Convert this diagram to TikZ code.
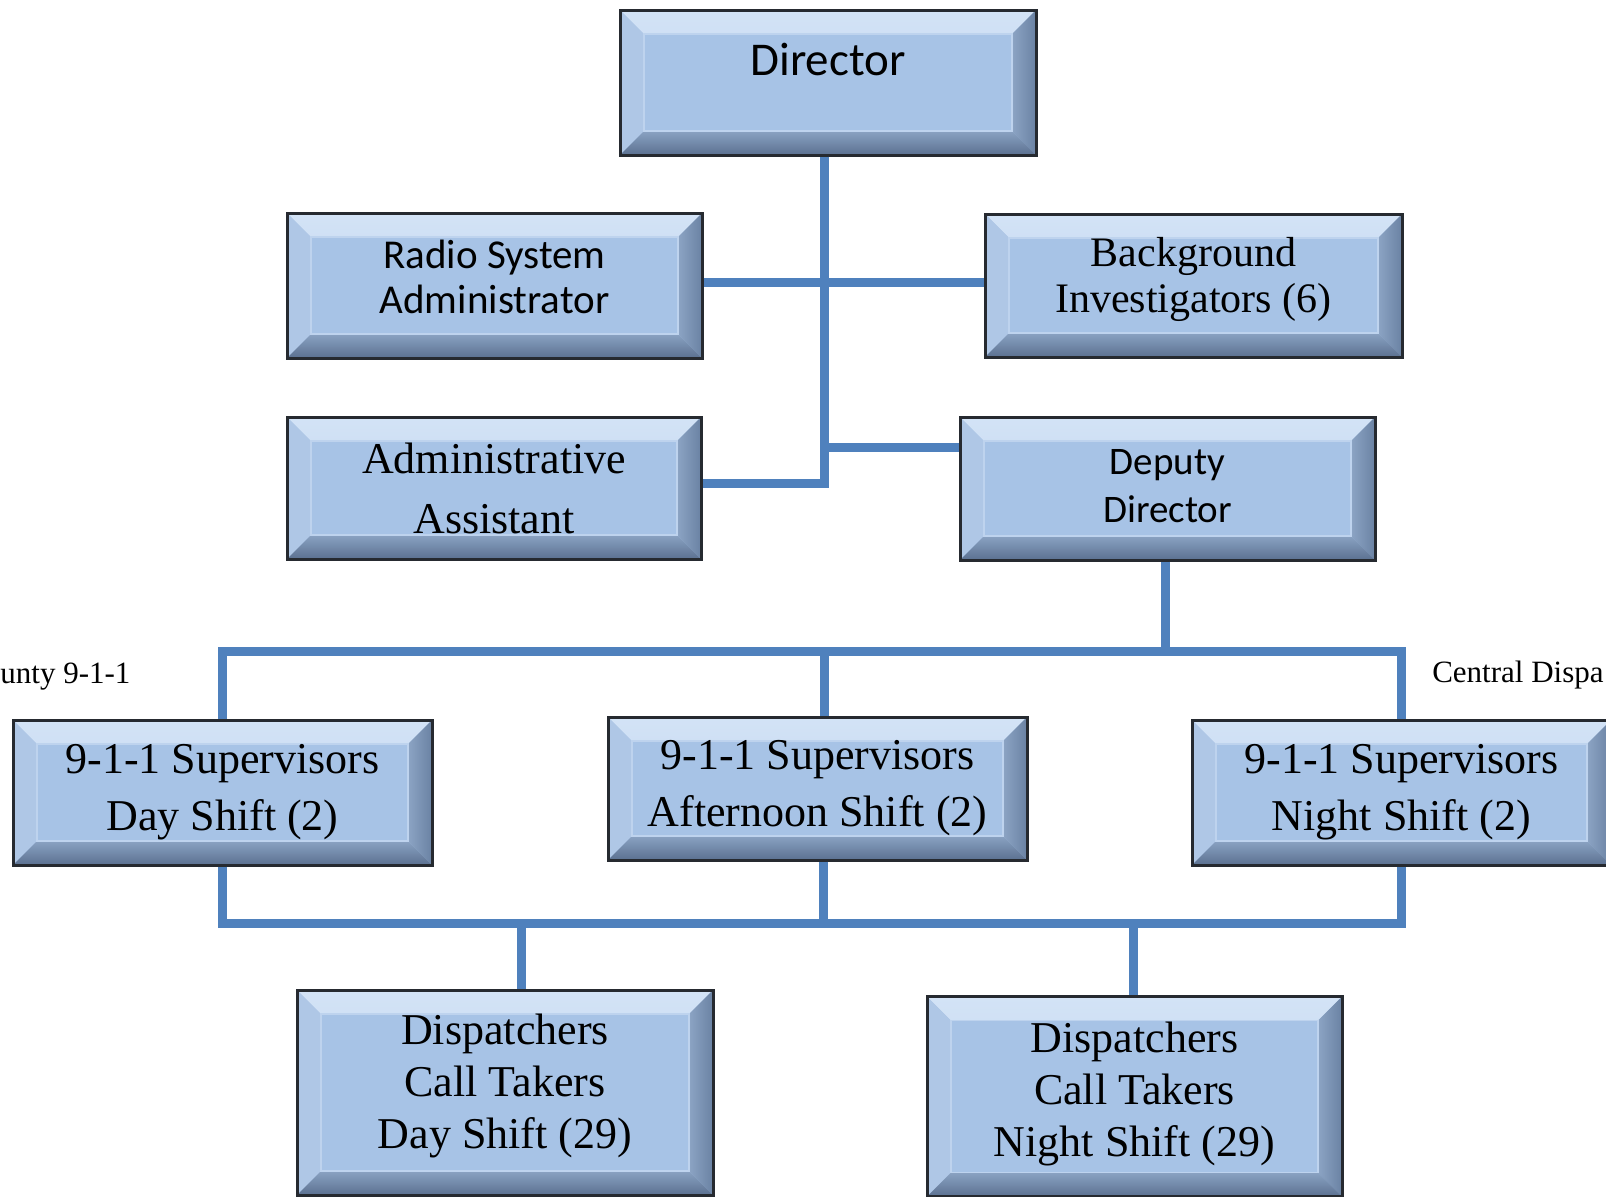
\documentclass[tikz,border=0pt]{standalone}
\usepackage{fontspec}
\setmainfont{Liberation Serif}
\newfontfamily\calfont{Carlito}
\usepackage{xcolor}
\usepackage{tikz}
\usetikzlibrary{positioning, calc}
\definecolor{boxedge}{HTML}{262A30}
\definecolor{boxface}{HTML}{A7C3E6}
\definecolor{bevtopA}{HTML}{D3E3F6}
\definecolor{bevtopB}{HTML}{BBD0EC}
\definecolor{bevleft}{HTML}{AFC7E6}
\definecolor{bevrightA}{HTML}{8CA4C4}
\definecolor{bevrightB}{HTML}{6A82A3}
\definecolor{bevbotA}{HTML}{8AA2C2}
\definecolor{bevbotB}{HTML}{5B7191}
\definecolor{innerline}{HTML}{BED3EE}
\definecolor{linkblue}{HTML}{4F81BD}
\tikzset{
  % Riquadri dell'organigramma (effetto smussato)
  bevbox/.style={draw=boxedge, line width=1.5pt, fill=boxface, inner sep=0pt, align=center,
    path picture={
      \shade[top color=bevtopA, bottom color=bevtopB]
        (path picture bounding box.north west) -- (path picture bounding box.north east)
        -- ([shift={(-12pt,-12pt)}]path picture bounding box.north east)
        -- ([shift={(12pt,-12pt)}]path picture bounding box.north west) -- cycle;
      \fill[bevleft]
        (path picture bounding box.north west) -- ([shift={(12pt,-12pt)}]path picture bounding box.north west)
        -- ([shift={(12pt,12pt)}]path picture bounding box.south west)
        -- (path picture bounding box.south west) -- cycle;
      \shade[left color=bevrightA, right color=bevrightB]
        (path picture bounding box.north east) -- ([shift={(-12pt,-12pt)}]path picture bounding box.north east)
        -- ([shift={(-12pt,12pt)}]path picture bounding box.south east)
        -- (path picture bounding box.south east) -- cycle;
      \shade[top color=bevbotA, bottom color=bevbotB]
        (path picture bounding box.south west) -- (path picture bounding box.south east)
        -- ([shift={(-12pt,12pt)}]path picture bounding box.south east)
        -- ([shift={(12pt,12pt)}]path picture bounding box.south west) -- cycle;
      \draw[innerline, line width=0.8pt]
        ([shift={(12pt,-12pt)}]path picture bounding box.north west)
        rectangle ([shift={(-12pt,12pt)}]path picture bounding box.south east);
    }},
  sansbox/.style={bevbox, font=\calfont\fontsize{20.5}{22.5}\selectfont},
  serifbox/.style={bevbox, font=\fontsize{22}{28.5}\selectfont},
  % Connessioni
  link/.style={draw=linkblue, line width=4.5pt},
  sidenote/.style={inner sep=0pt, font=\fontsize{15.5}{18}\selectfont}
}

\begin{document}
\begin{tikzpicture}[x=0.5pt, y=-0.5pt]
\useasboundingbox (0,0) rectangle (1606,1196);

% Vertice
\node[sansbox, minimum width=208pt, minimum height=72.5pt, text depth=23pt,
  font=\calfont\fontsize{23.5}{26}\selectfont] (dir) at (828,82.5) {Director};

% Staff
\node[sansbox, minimum width=207.5pt, minimum height=72.5pt, text depth=9pt] (radio) at (494.5,285.5) {Radio System\\Administrator};
\node[serifbox, minimum width=208.5pt, minimum height=71.5pt, text depth=10.5pt, font=\fontsize{21}{23}\selectfont] (bginv) at (1193.5,285.5) {Background\\Investigators (6)};
\node[serifbox, minimum width=207pt, minimum height=71pt, font=\fontsize{22}{30}\selectfont] (admin) at (494,488) {Administrative\\Assistant};
\node[sansbox, minimum width=207.5pt, minimum height=71.5pt, text depth=3pt, font=\calfont\fontsize{19.5}{24}\selectfont] (deputy) at (1167.5,488.5) {Deputy\\Director};

% Supervisori
\node[serifbox, minimum width=209.5pt, minimum height=72.5pt] (supday) at (222.5,792.5) {9-1-1 Supervisors\\Day Shift (2)};
\node[serifbox, minimum width=209.5pt, minimum height=71.5pt] (supaft) at (817.5,788.5) {9-1-1 Supervisors\\Afternoon Shift (2)};
\node[serifbox, minimum width=209.5pt, minimum height=72.5pt] (supnight) at (1401.5,792.5) {9-1-1 Supervisors\\Night Shift (2)};

% Operatori
\node[serifbox, minimum width=208pt, minimum height=102.5pt, text depth=10.8pt, font=\fontsize{22}{26}\selectfont] (dispday) at (505,1092.5) {Dispatchers\\Call Takers\\Day Shift (29)};
\node[serifbox, minimum width=207.5pt, minimum height=100pt, text depth=7.5pt, font=\fontsize{22}{26}\selectfont] (dispnight) at (1134.5,1096.5) {Dispatchers\\Call Takers\\Night Shift (29)};

% Testi ai margini
\node[sidenote, anchor=base west] (cnty) at (0,683) {unty 9-1-1};
\node[sidenote, anchor=base east] (cdisp) at (1604,682) {Central Dispa};

% Punti di giunzione
\coordinate (j0) at (824,282);
\coordinate (j1) at (824,483);
\coordinate (j2) at (824,447);
\coordinate (busA) at (1165,651);
\coordinate (busB) at (823,923);
\coordinate (d1) at (521,923);
\coordinate (d2) at (1133,923);

% Linee
\draw[link] (dir.south -| j1) -- (j1) -- (j1 -| admin.east);
\draw[link] (j0 -| radio.east) -- (j0 -| bginv.west);
\draw[link] (j2) -- (j2 -| deputy.west);
\draw[link] (deputy.south -| busA) -- (busA);
\draw[link] (supday.north) |- (supnight.north |- busA) -- (supnight.north);
\draw[link] (supaft.north -| j1) -- (j1 |- busA);
\draw[link] (supday.south) |- (supnight.south |- busB) -- (supnight.south);
\draw[link] (supaft.south -| busB) -- (busB);
\draw[link] (d1) -- (d1 |- dispday.north);
\draw[link] (d2) -- (d2 |- dispnight.north);

\end{tikzpicture}
\end{document}
